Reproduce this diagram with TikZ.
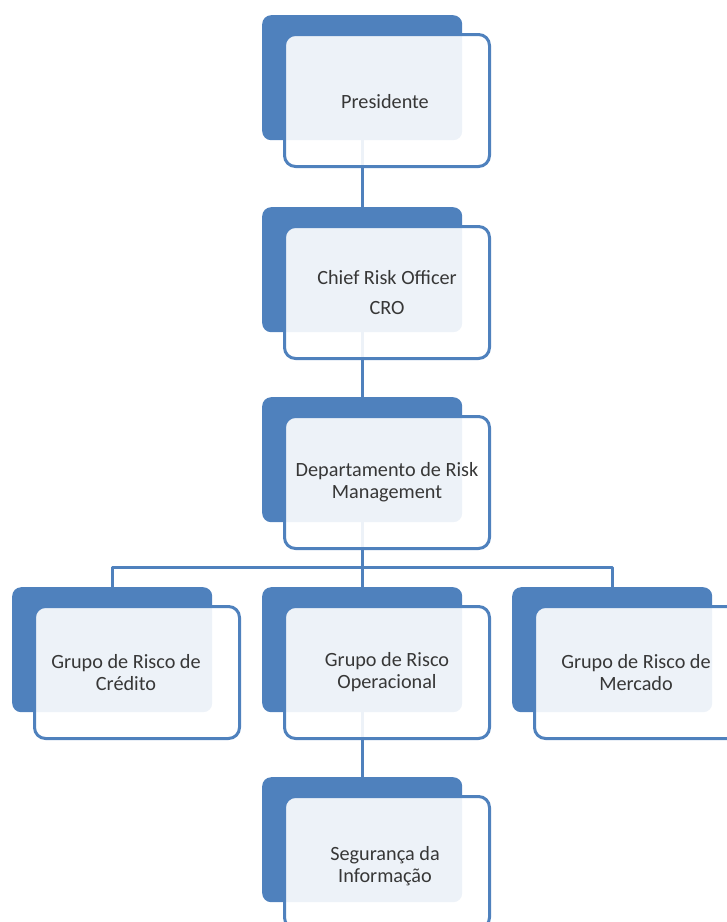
\documentclass[tikz,border=0pt]{standalone}
\usepackage{fontspec}
\setmainfont{Carlito}
\definecolor{obl}{RGB}{79,129,189}
\definecolor{txtc}{RGB}{55,55,55}
\pgfdeclarelayer{bg}
\pgfsetlayers{bg,main}
\tikzset{
  backbox/.style={draw=none, fill=obl, rounded corners=9bp, minimum width=200bp, minimum height=125bp, anchor=north west, inner sep=0pt},
  frontbox/.style={draw=obl, line width=3bp, fill=white, fill opacity=0.9, rounded corners=11bp, minimum width=205bp, minimum height=132bp, anchor=north west, inner sep=0pt},
  txt/.style={text=txtc, align=center, font=\fontsize{20.3}{22}\selectfont, inner sep=0pt},
  conn/.style={draw=obl, line width=3bp},
}
\begin{document}
\begin{tikzpicture}[x=1bp,y=-1bp]
\useasboundingbox (0,0) rectangle (727,922);
\coordinate (bar) at (0,567);
% back boxes
\node[backbox] (pB) at (262,15) {};
\node[backbox] (cB) at (262,207) {};
\node[backbox] (dB) at (262,397) {};
\node[backbox] (kB) at (12,587) {};
\node[backbox] (oB) at (262,587) {};
\node[backbox] (mB) at (512,587) {};
\node[backbox] (sB) at (262,777) {};
% connectors behind everything
\begin{pgfonlayer}{bg}
\draw[conn] (pB.south) -- (cB.north);
\draw[conn] (cB.south) -- (dB.north);
\draw[conn] (dB.south) -- (oB.north);
\draw[conn, line join=round] (kB.north) -- (kB.north |- bar) -- (mB.north |- bar) -- (mB.north);
\draw[conn] (oB.south) -- (sB.north);
\end{pgfonlayer}
% front boxes
\node[frontbox] (p) at ([shift={(21,18)}]pB.north west) {};
\node[frontbox] (c) at ([shift={(21,18)}]cB.north west) {};
\node[frontbox] (d) at ([shift={(21,18)}]dB.north west) {};
\node[frontbox] (k) at ([shift={(21,18)}]kB.north west) {};
\node[frontbox] (o) at ([shift={(21,18)}]oB.north west) {};
\node[frontbox] (m) at ([shift={(21,18)}]mB.north west) {};
\node[frontbox] (s) at ([shift={(21,18)}]sB.north west) {};
% texts
\node[txt] (pT) at ([shift={(-2,1)}]p.center) {Presidente};
\node[txt] (cT) at (c.center) {Chief Risk Officer\\[8bp]CRO};
\node[txt] (dT) at (d.center) {Departamento de Risk\\Management};
\node[txt] (kT) at ([shift={(-11,0)}]k.center) {Grupo de Risco de\\Crédito};
\node[txt] (oT) at (o.center) {Grupo de Risco\\Operacional};
\node[txt] (mT) at ([shift={(-1,0)}]m.center) {Grupo de Risco de\\Mercado};
\node[txt] (sT) at ([shift={(-2,4)}]s.center) {Segurança da\\Informação};
\end{tikzpicture}
\end{document}
